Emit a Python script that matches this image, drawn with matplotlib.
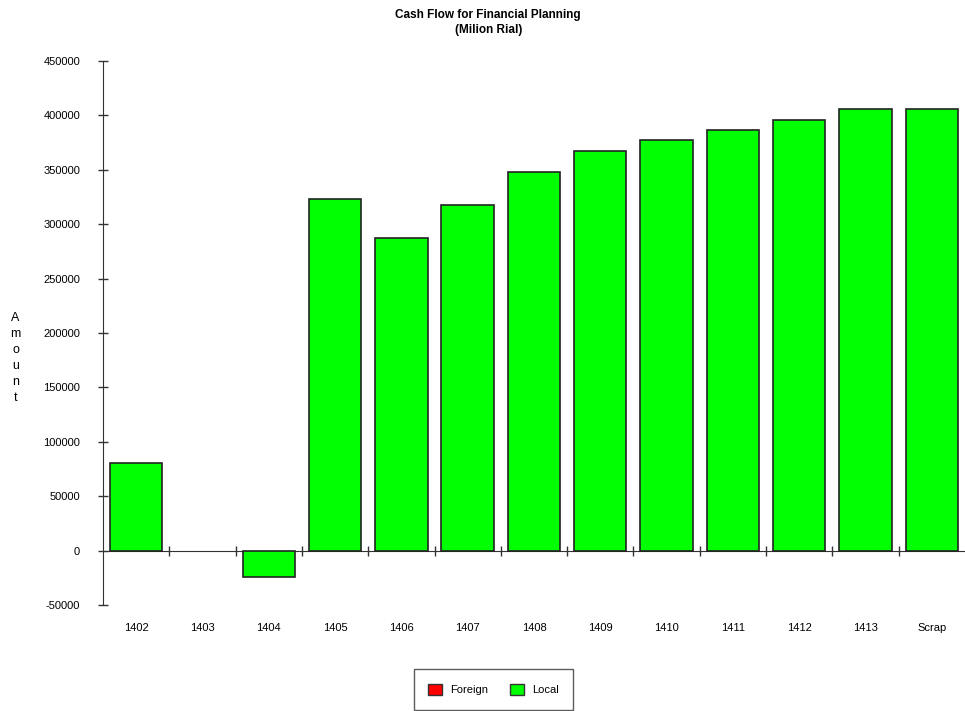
import matplotlib
matplotlib.use("Agg")
import matplotlib.pyplot as plt
import numpy as np
from matplotlib.patches import Patch

plt.rcParams['font.family'] = ['Liberation Sans', 'DejaVu Sans']

# chart data (million rial)
years = ["1402", "1403", "1404", "1405", "1406", "1407", "1408",
         "1409", "1410", "1411", "1412", "1413", "Scrap"]
local = [81000, 0, -24000, 323000, 287000, 318000, 348000,
         367000, 377000, 387000, 396000, 406000, 406000]
foreign = [0, 0, 0, 0, 0, 0, 0, 0, 0, 0, 0, 0, 0]
y_ticks = [-50000, 0, 50000, 100000, 150000, 200000, 250000,
           300000, 350000, 400000, 450000]

fig = plt.figure(figsize=(9.65, 7.11), dpi=100)
ax = fig.add_axes([0.1067, 0.149, 0.8933, 0.7652])

x = np.arange(len(years))
# zero-height bars get no outline so only the axis line shows
lw_foreign = [1.2 if v != 0 else 0 for v in foreign]
lw_local = [1.2 if v != 0 else 0 for v in local]
ax.bar(x, foreign, width=0.79, color="#ff0000", edgecolor="#222222", linewidth=lw_foreign)
ax.bar(x, local, width=0.79, bottom=foreign, color="#00ff00",
       edgecolor="#222222", linewidth=lw_local)

ax.set_xlim(-0.5, len(years) - 0.5)
ax.set_ylim(-50000, 450000)

# axes lines
for s in ["top", "right"]:
    ax.spines[s].set_visible(False)
ax.spines["bottom"].set_position(("data", 0))
ax.spines["bottom"].set_color("#333333")
ax.spines["left"].set_color("#333333")
ax.spines["bottom"].set_zorder(0.5)

ax.set_yticks(y_ticks)
ax.set_yticklabels([str(v) for v in y_ticks], fontsize=8)
ax.tick_params(axis="y", direction="inout", length=7, width=1, color="#333333", pad=13)

ax.set_xticks(x)
ax.set_xticklabels(years, fontsize=8)
ax.tick_params(axis="x", which="major", length=0, pad=52)
ax.set_xticks(x[:-1] + 0.5, minor=True)
ax.tick_params(axis="x", which="minor", direction="inout", length=7, width=1, color="#333333")

fig.text(0.506, 0.988, "Cash Flow for Financial Planning\n(Milion Rial)",
         ha="center", va="top", fontsize=8.5, fontweight="bold", linespacing=1.4)

fig.text(0.016, 0.496, "A\nm\no\nu\nn\nt", ha="center", va="center",
         fontsize=9, linespacing=1.45)

handles = [Patch(facecolor="#ff0000", edgecolor="#333333", label="Foreign"),
           Patch(facecolor="#00ff00", edgecolor="#333333", label="Local")]
leg = fig.legend(handles=handles, loc="center", bbox_to_anchor=(0.5114, 0.0302),
                 ncol=2, fontsize=8, frameon=True, fancybox=False,
                 handlelength=1.25, handleheight=1.15, handletextpad=0.7,
                 columnspacing=2.0, borderpad=1.3)
leg.get_frame().set_edgecolor("#333333")
leg.get_frame().set_linewidth(1)

fig.savefig("out.png", dpi=100)
